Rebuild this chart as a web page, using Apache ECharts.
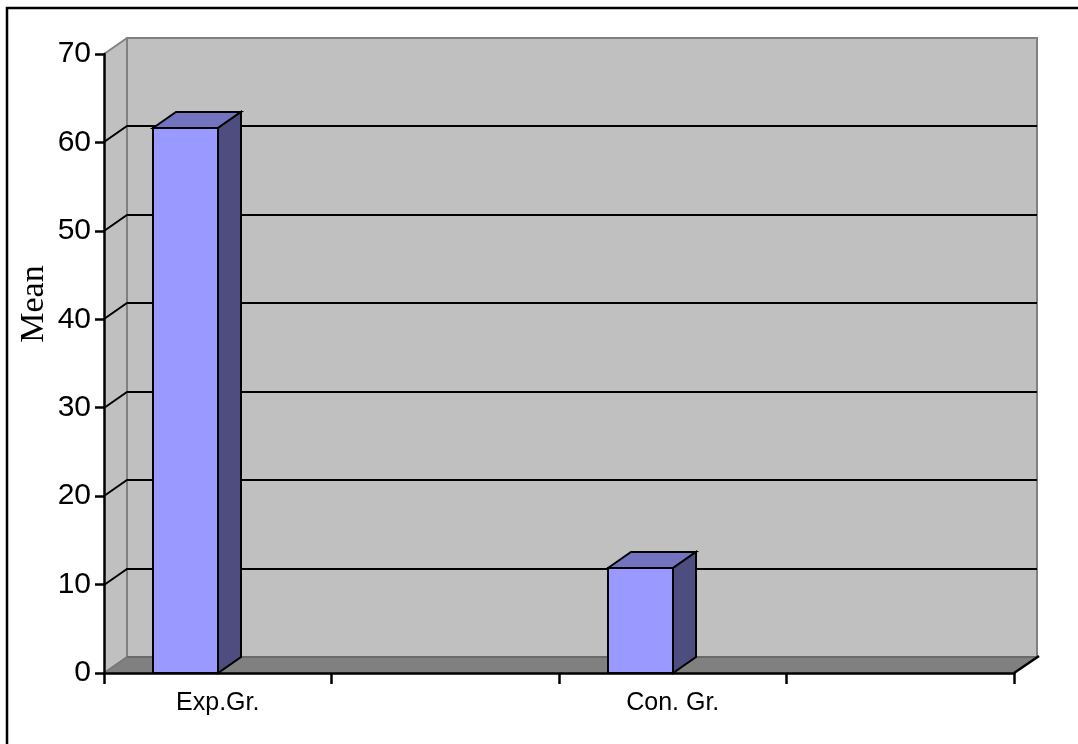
<!DOCTYPE html>
<html>
<head>
<meta charset="utf-8">
<script src="https://cdn.jsdelivr.net/npm/echarts@6/dist/echarts.min.js"></script>
<style>
  html, body { margin: 0; padding: 0; background: #fff; }
  #chart { width: 1078px; height: 744px; }
</style>
</head>
<body>
<div id="chart"></div>
<script>
// chart values
const categories = ['Exp.Gr.', '', 'Con. Gr.', ''];
const means = [61.6, null, 11.9, null];
const yTicks = [0, 10, 20, 30, 40, 50, 60, 70];
const yName = 'Mean';

// pseudo 3D depth offset (pixels)
const DX = 23, DY = -16;

const barData = categories
  .map((c, i) => [i, means[i]])
  .filter((d) => d[1] != null);

function renderWalls(params, api) {
  const bw = api.size([1, 0])[0];
  const L = Math.round(api.coord([0, 0])[0] - bw / 2);
  const R = Math.round(api.coord([categories.length - 1, 0])[0] + bw / 2);
  const yB = Math.round(api.coord([0, yTicks[0]])[1]);
  const yT = Math.round(api.coord([0, yTicks[yTicks.length - 1]])[1]);

  const children = [
    // left side wall
    {
      type: 'polygon',
      shape: { points: [[L, yT], [L + DX, yT + DY], [L + DX, yB + DY], [L, yB]] },
      style: { fill: '#C0C0C0' }
    },
    // back wall
    {
      type: 'rect',
      shape: { x: L + DX, y: yT + DY, width: R - L, height: yB - yT },
      style: { fill: '#C0C0C0', stroke: '#808080', lineWidth: 2 }
    },
    // floor
    {
      type: 'polygon',
      shape: { points: [[L, yB], [L + DX, yB + DY], [R + DX, yB + DY], [R, yB]] },
      style: { fill: '#808080' }
    },
    {
      type: 'line',
      shape: { x1: L + DX, y1: yB + DY, x2: R + DX, y2: yB + DY },
      style: { stroke: '#6a6a6a', lineWidth: 2 }
    },
    {
      type: 'line',
      shape: { x1: L, y1: yT, x2: L + DX, y2: yT + DY },
      style: { stroke: '#808080', lineWidth: 2 }
    },
    {
      type: 'line',
      shape: { x1: L, y1: yB, x2: L + DX, y2: yB + DY },
      style: { stroke: '#777', lineWidth: 2 }
    },
    {
      type: 'line',
      shape: { x1: R, y1: yB, x2: R + DX + 2, y2: yB + DY - 1 },
      style: { stroke: '#000', lineWidth: 2.5 }
    }
  ];

  // gridlines on side wall + back wall
  yTicks.slice(1, -1).forEach((v) => {
    const y = Math.round(api.coord([0, v])[1]);
    children.push({
      type: 'polyline',
      shape: { points: [[L, y], [L + DX, y + DY], [R + DX, y + DY]] },
      style: { stroke: '#000', lineWidth: 2, fill: null }
    });
  });

  return { type: 'group', children: children };
}

function renderBar(params, api) {
  const bw = api.size([1, 0])[0];
  const top = api.coord([api.value(0), api.value(1)]);
  const base = api.coord([api.value(0), 0]);
  const x1 = Math.round(top[0]);
  const x0 = Math.round(x1 - bw * 0.285);
  const y1 = Math.round(top[1]);
  const y0 = Math.round(base[1]);
  const edge = { stroke: '#000', lineWidth: 2, lineJoin: 'miter' };
  return {
    type: 'group',
    children: [
      {
        type: 'polygon',
        shape: { points: [[x0, y1], [x0 + DX, y1 + DY], [x1 + DX, y1 + DY], [x1, y1]] },
        style: Object.assign({ fill: '#7373C0' }, edge)
      },
      {
        type: 'polygon',
        shape: { points: [[x1, y1], [x1 + DX, y1 + DY], [x1 + DX, y0 + DY], [x1, y0]] },
        style: Object.assign({ fill: '#4D4D80' }, edge)
      },
      {
        type: 'rect',
        shape: { x: x0, y: y1, width: x1 - x0, height: y0 - y1 },
        style: Object.assign({ fill: '#9999FF' }, edge)
      }
    ]
  };
}

const chart = echarts.init(document.getElementById('chart'));

const option = {
  animation: false,
  backgroundColor: '#fff',
  grid: { left: 104, right: 64, top: 54, bottom: 71 },
  graphic: [
    {
      type: 'rect',
      shape: { x: 7, y: 8, width: 1200, height: 900 },
      style: { fill: 'none', stroke: '#000', lineWidth: 2.5 },
      z: 100
    },
    {
      type: 'text',
      x: 34,
      y: 304,
      rotation: Math.PI / 2,
      style: {
        text: yName,
        font: '34px "Liberation Serif", "Times New Roman", serif',
        fill: '#000',
        align: 'center',
        verticalAlign: 'middle'
      }
    }
  ],
  xAxis: {
    type: 'category',
    data: categories,
    z: 5,
    axisLine: { lineStyle: { color: '#000', width: 2.5 } },
    axisTick: { show: true, interval: 0, length: 11, lineStyle: { color: '#000', width: 2.5 } },
    axisLabel: {
      interval: 0,
      margin: 18,
      color: '#000',
      fontSize: 25,
      fontFamily: '"Liberation Sans", Arial, sans-serif'
    },
    splitLine: { show: false }
  },
  yAxis: {
    type: 'value',
    min: 0,
    max: 70,
    interval: 10,
    z: 5,
    axisLine: { show: true, lineStyle: { color: '#000', width: 2.5 } },
    axisTick: { show: true, length: 9, lineStyle: { color: '#000', width: 2.5 } },
    axisLabel: {
      margin: 13,
      color: '#000',
      fontSize: 30,
      fontFamily: '"Liberation Sans", Arial, sans-serif'
    },
    splitLine: { show: false }
  },
  series: [
    {
      type: 'custom',
      name: 'walls',
      clip: false,
      z: 1,
      silent: true,
      renderItem: renderWalls,
      data: [[0, 0]]
    },
    {
      type: 'custom',
      name: 'Mean',
      clip: false,
      z: 2,
      renderItem: renderBar,
      encode: { x: 0, y: 1 },
      data: barData
    }
  ]
};

chart.setOption(option);
</script>
</body>
</html>
